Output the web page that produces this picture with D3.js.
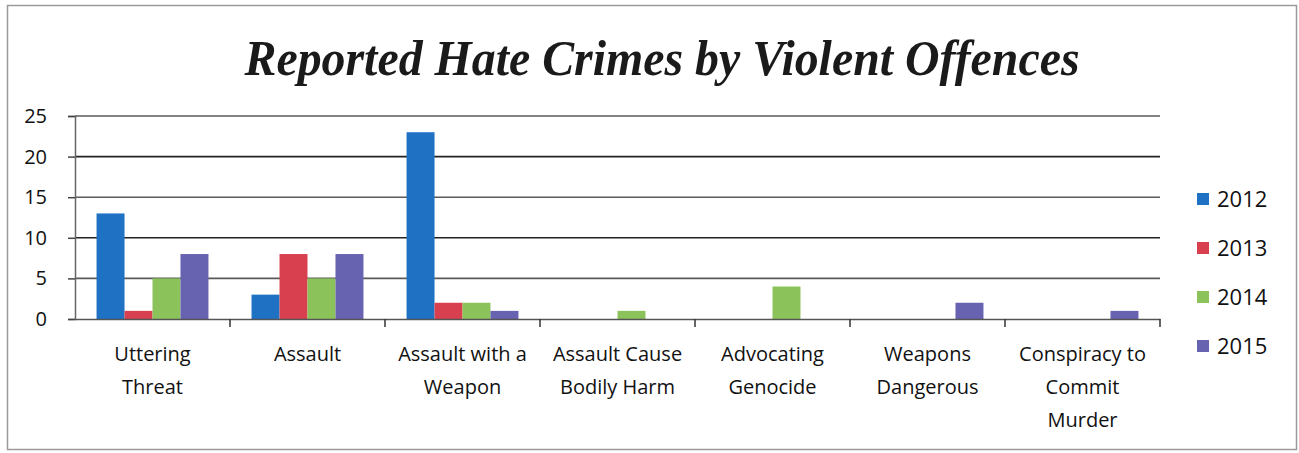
<!DOCTYPE html>
<html>
<head>
<meta charset="utf-8">
<script src="https://cdn.jsdelivr.net/npm/d3@7"></script>
<style>
  body { margin: 0; background: #fff; }
  svg { display: block; }
</style>
</head>
<body>
<div id="chart-area"></div>
<script>
var categories = ["Uttering Threat", "Assault", "Assault with a Weapon", "Assault Cause Bodily Harm",
                  "Advocating Genocide", "Weapons Dangerous", "Conspiracy to Commit Murder"];
var categoryLines = [["Uttering", "Threat"], ["Assault"], ["Assault with a", "Weapon"],
                     ["Assault Cause", "Bodily Harm"], ["Advocating", "Genocide"],
                     ["Weapons", "Dangerous"], ["Conspiracy to", "Commit", "Murder"]];
var years = ["2012", "2013", "2014", "2015"];
var values2012 = [13, 3, 23, 0, 0, 0, 0];
var values2013 = [1, 8, 2, 0, 0, 0, 0];
var values2014 = [5, 5, 2, 1, 4, 0, 0];
var values2015 = [8, 8, 1, 0, 0, 2, 1];
var yTicks = [0, 5, 10, 15, 20, 25];
var colors = ["#1f71c4", "#d9404f", "#8cc25a", "#6763b0"];

var series = [values2012, values2013, values2014, values2015];

var W = 1299, H = 453;
var margin = { left: 75, right: 139, top: 116, bottom: 134 };
var width = W - margin.left - margin.right;
var height = H - margin.top - margin.bottom;

var svg = d3.select("#chart-area").append("svg")
	.attr("width", W)
	.attr("height", H);

// outer frame
svg.append("rect")
	.attr("x", 7.5).attr("y", 5.5)
	.attr("width", 1289).attr("height", 444)
	.attr("fill", "none")
	.attr("stroke", "#9a9a9a")
	.attr("stroke-width", 1.5);

svg.append("text")
	.attr("x", 662)
	.attr("y", 75)
	.attr("text-anchor", "middle")
	.attr("font-family", "Liberation Serif, serif")
	.attr("font-style", "italic")
	.attr("font-weight", "bold")
	.attr("font-size", "50px")
	.attr("fill", "#1a1a1a")
	.attr("textLength", 835)
	.attr("lengthAdjust", "spacingAndGlyphs")
	.text("Reported Hate Crimes by Violent Offences");

var g = svg.append("g")
	.attr("transform", "translate(" + margin.left + ", " + margin.top + ")");

var x = d3.scaleBand()
	.domain(categories)
	.range([0, width])
	.paddingInner(0)
	.paddingOuter(0);

var x1 = d3.scaleBand()
	.domain(years)
	.range([0, x.bandwidth()])
	.paddingOuter(0.77)
	.paddingInner(0);

var y = d3.scaleLinear()
	.domain([0, 25])
	.range([height, 0]);

// gridlines
g.append("g")
	.selectAll("line")
	.data(yTicks.slice(1))
	.enter()
	.append("line")
		.attr("x1", 0)
		.attr("x2", width)
		.attr("y1", function(d){ return y(d); })
		.attr("y2", function(d){ return y(d); })
		.attr("stroke", function(d, i){ return i % 2 == 0 ? "#5a5a5a" : "#222"; })
		.attr("stroke-width", 1.6);

// bars
years.forEach(function(yr, s){
	g.append("g")
		.selectAll("rect")
		.data(series[s])
		.enter()
		.append("rect")
			.attr("x", function(d, i){ return x(categories[i]) + x1(yr); })
			.attr("y", function(d){ return y(d); })
			.attr("width", x1.bandwidth())
			.attr("height", function(d){ return height - y(d); })
			.attr("fill", colors[s]);
});

var yAxis = d3.axisLeft(y)
	.tickValues(yTicks)
	.tickSize(7)
	.tickPadding(21);

var ya = g.append("g")
	.attr("class", "y-axis")
	.call(yAxis);
ya.select(".domain").attr("stroke", "#666").attr("stroke-width", 1.5);
ya.selectAll(".tick line").attr("stroke", "#444").attr("stroke-width", 1.5);
ya.selectAll(".tick text")
	.attr("font-family", "Open Sans, sans-serif")
	.attr("font-size", "20px")
	.attr("fill", "#111");

var xAxis = d3.axisBottom(x)
	.tickValues([])
	.tickSizeOuter(0);

var xa = g.append("g")
	.attr("class", "x-axis")
	.attr("transform", "translate(0, " + height + ")")
	.call(xAxis);
xa.select(".domain").attr("stroke", "#555").attr("stroke-width", 1.5);

// category boundary ticks
xa.selectAll("line.sep")
	.data(categories)
	.enter()
	.append("line")
		.attr("class", "sep")
		.attr("x1", function(d){ return x(d) + x.bandwidth(); })
		.attr("x2", function(d){ return x(d) + x.bandwidth(); })
		.attr("y1", 0)
		.attr("y2", 8)
		.attr("stroke", "#333")
		.attr("stroke-width", 1.5);

// category labels
var labels = g.append("g")
	.selectAll("text")
	.data(categories)
	.enter()
	.append("text")
		.attr("text-anchor", "middle")
		.attr("font-family", "Open Sans, sans-serif")
		.attr("font-size", "20px")
		.attr("fill", "#111")
		.attr("transform", function(d){ return "translate(" + (x(d) + x.bandwidth() / 2) + "," + (height + 42) + ")"; });

labels.each(function(d, i){
	var t = d3.select(this);
	categoryLines[i].forEach(function(line, k){
		t.append("tspan")
			.attr("x", 0)
			.attr("y", k * 33)
			.text(line);
	});
});

// legend
var legend = svg.append("g")
	.attr("transform", "translate(1197, 199)");

var items = legend.selectAll("g")
	.data(years)
	.enter()
	.append("g")
		.attr("transform", function(d, i){ return "translate(0," + (i * 49) + ")"; });

items.append("rect")
	.attr("x", 0).attr("y", -6)
	.attr("width", 12).attr("height", 12)
	.attr("fill", function(d, i){ return colors[i]; });

items.append("text")
	.attr("x", 20)
	.attr("y", 8)
	.attr("font-family", "Open Sans, sans-serif")
	.attr("font-size", "22px")
	.attr("fill", "#111")
	.text(function(d){ return d; });
</script>
</body>
</html>
